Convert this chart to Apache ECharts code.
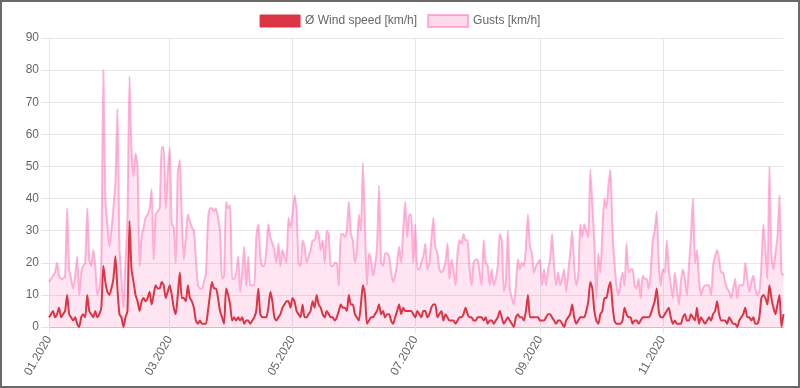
<!DOCTYPE html>
<html>
<head>
<meta charset="utf-8">
<script src="https://cdn.jsdelivr.net/npm/echarts@6/dist/echarts.min.js"></script>
<style>
  html, body { margin: 0; padding: 0; background: #fff; overflow: hidden; }
  #chart { position: absolute; left: 0; top: 0; width: 800px; height: 388px; }
  #frame { position: absolute; left: 0; top: 0; width: 800px; height: 388px; box-sizing: border-box; border: 2px solid #6a6a6a; pointer-events: none; }
</style>
</head>
<body>
<div id="chart"></div>
<div id="frame"></div>
<script>
// Series names
const windName = 'Ø Wind speed [km/h]';
const gustName = 'Gusts [km/h]';

// Tick label months shown on the x axis
const tickMonths = ['01', '03', '05', '07', '09', '11'];

// Categories: every day of 2020 (DD.MM.YYYY)
const days = [];
for (let i = 0; i < 366; i++) {
  const d = new Date(Date.UTC(2020, 0, 1 + i));
  const dd = String(d.getUTCDate()).padStart(2, '0');
  const mm = String(d.getUTCMonth() + 1).padStart(2, '0');
  days.push(dd + '.' + mm + '.2020');
}

// Gusts [km/h], daily values
const gusts = [
  14,15,16,17,20,16,15,15,16,37,
  18,15,12,16,22,10,17,19,20,37,
  21,19,24,19,10,12,20,80,40,32,
  25,30,37,45,68,25,15,6,20,34,
  78,55,47,54,50,19,28,31,34,35,
  37,43,21,35,36,37,56,56,37,48,
  56,32,31,20,48,52,34,21,28,35,
  33,31,30,21,13,12,12,14,17,33,
  37,37,36,37,34,30,15,16,39,37,
  38,15,15,17,22,11,17,25,13,22,
  13,13,13,28,32,22,19,19,24,32,
  28,26,24,20,26,19,24,22,20,34,
  31,35,41,37,20,19,27,25,20,22,
  24,27,27,30,29,24,27,20,30,29,
  19,19,20,20,13,29,29,28,30,39,
  29,27,20,24,35,30,51,32,13,23,
  21,16,19,25,44,20,19,23,23,22,
  17,14,16,20,25,20,30,39,28,35,
  35,20,32,18,18,20,22,26,18,20,
  27,34,25,23,18,17,18,20,26,15,
  21,18,13,23,27,26,29,27,27,18,
  13,20,21,21,17,13,27,20,19,13,
  18,13,15,19,29,27,11,14,30,12,
  9,7,13,21,18,20,19,25,35,25,
  23,17,19,20,21,13,18,13,18,21,
  29,19,13,17,13,15,18,11,17,23,
  30,19,13,16,32,28,32,30,28,49,
  38,26,9,23,17,30,40,37,44,49,
  30,20,13,10,14,17,13,26,17,18,
  18,13,12,15,9,16,15,15,12,17,
  27,30,36,20,13,18,17,27,18,13,
  9,17,12,7,14,18,15,10,19,28,
  40,20,24,15,10,12,13,13,13,10,
  19,22,24,21,17,17,14,12,11,9,
  12,15,9,13,13,13,20,15,11,14,
  16,12,10,11,19,32,24,15,50,22,
  18,23,28,41,17,16
];

// Average wind speed [km/h], daily values
const wind = [
  3,4,5,3,4,6,3,4,5,10,
  4,3,2,3,1,0,3,4,3,10,
  5,4,3,5,3,4,6,19,14,11,
  10,12,15,22,12,4,3,0,3,5,
  33,18,14,10,8,5,8,9,8,9,
  11,7,10,13,12,12,14,13,9,11,
  13,10,6,4,10,17,9,9,8,13,
  9,8,6,2,1,2,1,1,1,5,
  10,14,12,12,9,5,3,1,12,10,
  7,2,3,2,3,2,3,1,2,2,
  1,2,3,5,12,4,3,3,3,6,
  11,8,3,2,3,4,6,7,8,8,
  6,9,8,5,4,3,7,3,3,4,
  5,8,6,10,7,6,4,3,5,4,
  3,3,2,3,5,7,6,6,5,10,
  7,7,4,3,2,7,13,10,1,2,
  3,3,4,5,7,4,5,3,4,4,
  2,1,3,5,7,4,6,5,5,5,
  5,4,3,5,4,3,5,5,3,4,
  6,7,7,3,4,5,2,4,3,2,
  2,2,1,2,3,3,4,6,4,3,
  3,2,2,3,3,3,2,3,1,2,
  2,1,2,3,5,3,1,2,3,2,
  1,0,3,4,3,3,2,5,10,3,
  3,3,3,3,2,2,2,3,4,4,
  3,2,1,2,2,1,0,2,3,4,
  7,3,1,2,3,3,3,5,8,14,
  12,5,2,1,4,5,9,9,12,14,
  7,2,1,1,1,2,6,4,3,3,
  1,2,2,1,2,3,3,3,3,4,
  6,8,12,5,3,3,4,5,6,3,
  1,2,1,1,1,3,4,2,2,4,
  3,2,6,1,3,2,1,2,3,2,
  4,5,8,4,2,2,2,1,3,2,
  1,1,0,2,3,4,6,3,3,2,
  3,1,1,3,9,10,9,7,13,9,
  6,4,7,10,0,4
];

const FONT = "'Liberation Sans', Arial, Helvetica, sans-serif";
const GRID = '#e6e6e6';
const isTick = (idx, v) => v.slice(0, 2) === '01' && tickMonths.indexOf(v.slice(3, 5)) >= 0;

const chart = echarts.init(document.getElementById('chart'), null, { renderer: 'canvas' });
chart.setOption({
  animation: false,
  textStyle: { fontFamily: FONT },
  legend: {
    top: 9,
    left: 'center',
    itemWidth: 40,
    itemHeight: 12,
    itemGap: 10,
    textStyle: { color: '#666', fontSize: 12, fontFamily: FONT },
    data: [
      { name: windName, icon: 'rect', itemStyle: { color: '#dc3545', borderColor: '#dc3545', borderWidth: 1 } },
      { name: gustName, icon: 'rect', itemStyle: { color: 'rgba(255,105,180,0.25)', borderColor: 'rgba(255,105,180,0.5)', borderWidth: 2 } }
    ]
  },
  grid: { left: 49, right: 16.5, top: 38, bottom: 61, containLabel: false },
  xAxis: {
    type: 'category',
    boundaryGap: false,
    data: days,
    axisLine: { lineStyle: { color: '#c4c4c4', width: 1 } },
    axisTick: { show: true, interval: isTick, length: 6, lineStyle: { color: GRID } },
    splitLine: { show: true, interval: isTick, lineStyle: { color: GRID, width: 1 } },
    axisLabel: {
      interval: isTick,
      formatter: v => v.slice(3),
      rotate: 60,
      margin: 10,
      color: '#666',
      fontSize: 12,
      fontFamily: FONT
    }
  },
  yAxis: {
    type: 'value',
    min: 0,
    max: 90,
    interval: 10,
    axisLine: { show: true, lineStyle: { color: GRID } },
    axisTick: { show: true, length: 8, lineStyle: { color: GRID } },
    splitLine: { show: true, lineStyle: { color: GRID } },
    axisLabel: { color: '#666', fontSize: 12, margin: 10, fontFamily: FONT }
  },
  series: [
    {
      name: gustName,
      type: 'line',
      data: gusts,
      symbol: 'none',
      smooth: 0.2,
      z: 2,
      lineStyle: { color: 'rgba(255,105,180,0.5)', width: 2 },
      itemStyle: { color: 'rgba(255,105,180,0.5)' },
      areaStyle: { color: 'rgba(255,105,180,0.25)', origin: 'start' }
    },
    {
      name: windName,
      type: 'line',
      data: wind,
      symbol: 'none',
      smooth: 0.2,
      z: 3,
      lineStyle: { color: '#dc3545', width: 2 },
      itemStyle: { color: '#dc3545' }
    }
  ]
});
</script>
</body>
</html>
